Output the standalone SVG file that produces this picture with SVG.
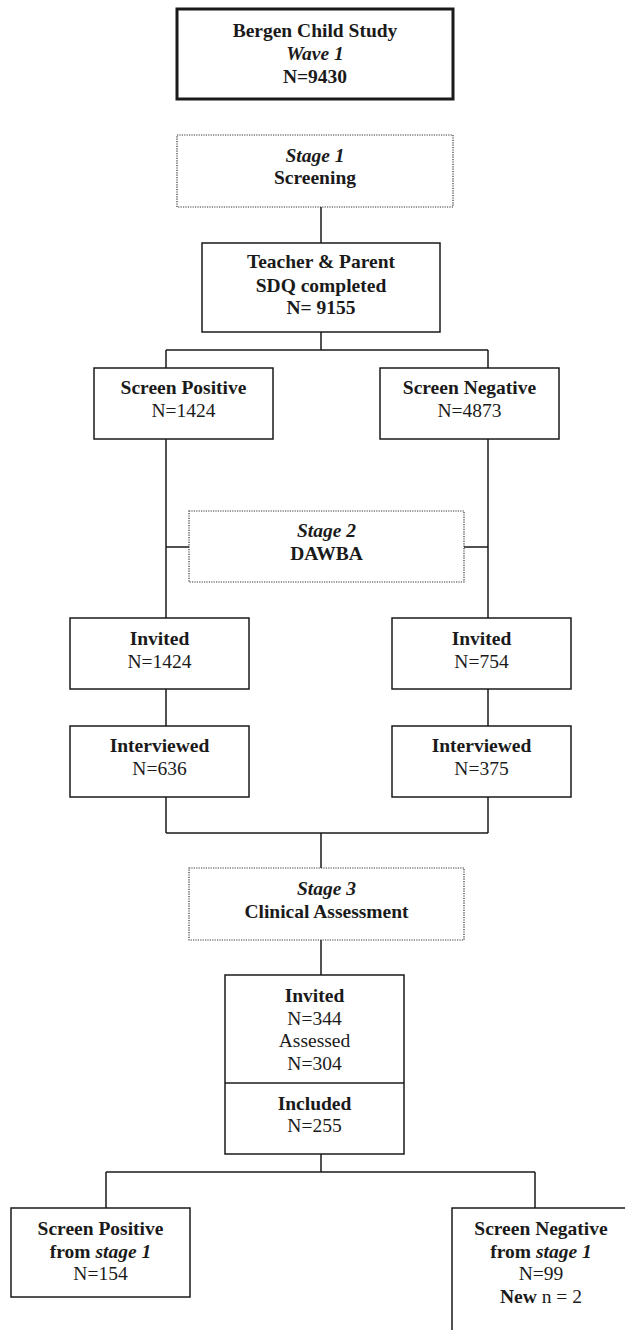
<svg xmlns="http://www.w3.org/2000/svg" width="625" height="1330" viewBox="0 0 625 1330">
<style>
.box{fill:#fff;stroke:#1a1a1a;stroke-width:1.5}
.thick{fill:#fff;stroke:#1a1a1a;stroke-width:3}
.dot{fill:#fff;stroke:#333;stroke-width:1.2;stroke-dasharray:1.2 1.2}
.ln{fill:none;stroke:#1a1a1a;stroke-width:1.5}
text{font-family:"Liberation Serif","Times New Roman",serif;font-size:19.5px;fill:#1a1a1a;text-anchor:middle}
.b{font-weight:bold}
.i{font-style:italic}
</style>
<rect width="625" height="1330" fill="#fff"/>
<g id="connectors">
<path class="ln" d="M321 207V243"/>
<path class="ln" d="M321 332V350M166 350H488M166 350V368M488 350V368"/>
<path class="ln" d="M166 439V618M488 439V618M166 547H189M464 547H488"/>
<path class="ln" d="M166 689V726M488 689V726"/>
<path class="ln" d="M166 797V833M488 797V833M166 833H488M321 833V868"/>
<path class="ln" d="M321 940V975"/>
<path class="ln" d="M321 1154V1172M106 1172H535M106 1172V1208M535 1172V1208"/>
</g>
<g id="bergen">
<rect class="thick" x="177" y="9" width="276" height="90"/>
<text x="315" y="37" class="b">Bergen Child Study</text>
<text x="315" y="60" class="b i">Wave 1</text>
<text x="315" y="83" class="b">N=9430</text>
</g>
<g id="stage1">
<rect class="dot" x="177" y="135" width="276" height="72"/>
<text x="315" y="162" class="b i">Stage 1</text>
<text x="315" y="184" class="b">Screening</text>
</g>
<g id="sdq">
<rect class="box" x="202" y="243" width="238" height="89"/>
<text x="321" y="268" class="b">Teacher &amp; Parent</text>
<text x="321" y="292" class="b">SDQ completed</text>
<text x="321" y="314" class="b">N= 9155</text>
</g>
<g id="screenpos">
<rect class="box" x="94" y="368" width="179" height="71"/>
<text x="183.5" y="394" class="b">Screen Positive</text>
<text x="183.5" y="417">N=1424</text>
</g>
<g id="screenneg">
<rect class="box" x="380" y="368" width="179" height="71"/>
<text x="469.5" y="394" class="b">Screen Negative</text>
<text x="469.5" y="417">N=4873</text>
</g>
<g id="stage2">
<rect class="dot" x="189" y="511" width="275" height="71"/>
<text x="326.5" y="537" class="b i">Stage 2</text>
<text x="326.5" y="560" class="b">DAWBA</text>
</g>
<g id="invitedpos">
<rect class="box" x="70" y="618" width="179" height="71"/>
<text x="159.5" y="645" class="b">Invited</text>
<text x="159.5" y="668">N=1424</text>
</g>
<g id="invitedneg">
<rect class="box" x="392" y="618" width="179" height="71"/>
<text x="481.5" y="645" class="b">Invited</text>
<text x="481.5" y="668">N=754</text>
</g>
<g id="interviewedpos">
<rect class="box" x="70" y="726" width="179" height="71"/>
<text x="159.5" y="752" class="b">Interviewed</text>
<text x="159.5" y="775">N=636</text>
</g>
<g id="interviewedneg">
<rect class="box" x="392" y="726" width="179" height="71"/>
<text x="481.5" y="752" class="b">Interviewed</text>
<text x="481.5" y="775">N=375</text>
</g>
<g id="stage3">
<rect class="dot" x="189" y="868" width="275" height="72"/>
<text x="326.5" y="895" class="b i">Stage 3</text>
<text x="326.5" y="918" class="b">Clinical Assessment</text>
</g>
<g id="assessed">
<rect class="box" x="225" y="975" width="179" height="179"/>
<path class="ln" d="M225 1083H404"/>
<text x="314.5" y="1002" class="b">Invited</text>
<text x="314.5" y="1025">N=344</text>
<text x="314.5" y="1047">Assessed</text>
<text x="314.5" y="1070">N=304</text>
<text x="314.5" y="1110" class="b">Included</text>
<text x="314.5" y="1132">N=255</text>
</g>
<g id="finalpos">
<rect class="box" x="11" y="1208" width="179" height="89"/>
<text x="100.5" y="1235" class="b">Screen Positive</text>
<text x="100.5" y="1258" class="b">from <tspan class="i">stage 1</tspan></text>
<text x="100.5" y="1280">N=154</text>
</g>
<g id="finalneg">
<rect class="box" x="452" y="1208" width="190" height="140"/>
<text x="541" y="1235" class="b">Screen Negative</text>
<text x="541" y="1258" class="b">from <tspan class="i">stage 1</tspan></text>
<text x="541" y="1280">N=99</text>
<text x="541" y="1303"><tspan class="b">New</tspan> n = 2</text>
</g>
</svg>
